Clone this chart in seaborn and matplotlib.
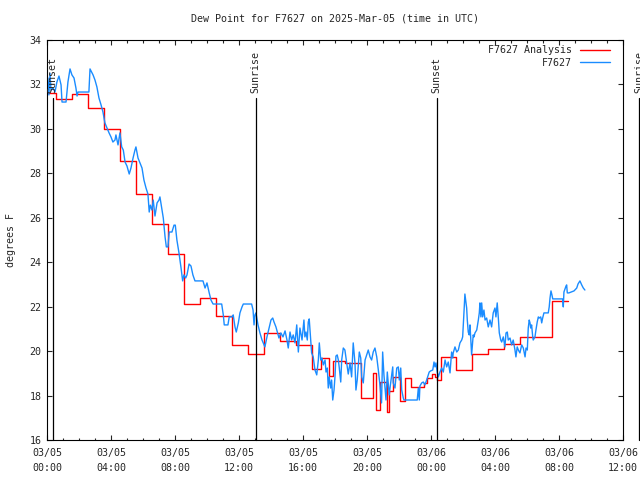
import matplotlib
matplotlib.use("Agg")
import matplotlib.pyplot as plt
import matplotlib.dates as mdates
import matplotlib.transforms as mtransforms
import pandas as pd
import seaborn as sns

START = pd.Timestamp("2025-03-05 00:00")

# hourly analysis (step values), hours after 03/05 00:00 UTC
analysis_hours = [
    0.00, 0.56, 1.56, 2.56, 3.56, 4.56, 5.56, 6.56, 7.56, 8.56, 9.56, 10.56,
    11.56, 12.56, 13.56, 14.56, 15.56, 16.56, 17.10, 17.60, 17.86, 18.60,
    19.60, 20.36, 20.56, 20.81, 21.23, 21.38, 21.60, 22.06, 22.40, 22.73,
    23.56, 23.73, 24.04, 24.25, 24.40, 24.60, 25.56, 26.56, 27.56, 28.56,
    29.56, 31.56, 32.54,
]
analysis_dewpt = [
    31.60, 31.35, 31.57, 30.93, 29.98, 28.56, 27.06, 25.70, 24.36, 22.12, 22.37, 21.58,
    20.27, 19.86, 20.83, 20.45, 20.28, 19.18, 19.67, 18.90, 19.55, 19.48,
    17.87, 19.00, 17.35, 18.62, 17.27, 18.22, 18.82, 17.77, 18.78, 18.37,
    18.58, 18.78, 18.97, 18.82, 18.70, 19.72, 19.15, 19.85, 20.08, 20.30,
    20.62, 22.25, 22.25,
]

# station observations
obs_hours = [
    0.00, 0.06, 0.12, 0.19, 0.25, 0.38, 0.50, 0.62, 0.75, 0.88, 0.94, 1.19,
    1.31, 1.44, 1.56, 1.69, 1.81, 1.88, 1.94, 2.62, 2.69, 2.88, 3.00, 3.12,
    3.25, 3.38, 3.50, 3.62, 3.75, 3.88, 4.00, 4.12, 4.25, 4.31, 4.44, 4.56,
    4.67, 4.77, 4.88, 5.00, 5.14, 5.25, 5.38, 5.50, 5.56, 5.69, 5.81, 5.94,
    6.06, 6.19, 6.31, 6.39, 6.46, 6.56, 6.64, 6.75, 6.88, 7.00, 7.06, 7.19,
    7.27, 7.38, 7.46, 7.56, 7.64, 7.81, 7.94, 8.02, 8.12, 8.25, 8.38, 8.48,
    8.56, 8.67, 8.75, 8.88, 9.00, 9.12, 9.25, 9.75, 9.88, 10.00, 10.14, 10.25,
    10.38, 10.92, 11.02, 11.08, 11.31, 11.39, 11.56, 11.64, 11.75, 11.83, 11.96, 12.06,
    12.19, 12.27, 12.79, 12.88, 12.94, 13.00, 13.06, 13.19, 13.31, 13.44, 13.62, 13.75,
    13.88, 14.00, 14.11, 14.19, 14.31, 14.50, 14.62, 14.75, 14.88, 15.00, 15.08, 15.19,
    15.29, 15.39, 15.50, 15.61, 15.71, 15.81, 15.94, 16.06, 16.12, 16.19, 16.27, 16.33,
    16.39, 16.48, 16.54, 16.64, 16.75, 16.86, 16.96, 17.02, 17.11, 17.19, 17.27, 17.38,
    17.44, 17.52, 17.58, 17.64, 17.73, 17.79, 17.86, 17.94, 18.00, 18.06, 18.14, 18.21,
    18.27, 18.36, 18.42, 18.52, 18.62, 18.73, 18.83, 18.94, 19.04, 19.14, 19.25, 19.31,
    19.39, 19.52, 19.61, 19.67, 19.77, 19.88, 19.98, 20.08, 20.19, 20.29, 20.39, 20.50,
    20.61, 20.71, 20.81, 20.91, 20.98, 21.06, 21.19, 21.27, 21.39, 21.48, 21.61, 21.64,
    21.75, 21.86, 21.96, 22.02, 22.11, 22.17, 22.27, 22.31, 23.14, 23.21, 23.27, 23.31,
    23.42, 23.52, 23.62, 23.73, 23.83, 23.89, 23.98, 24.11, 24.19, 24.25, 24.31, 24.39,
    24.46, 24.56, 24.67, 24.77, 24.88, 24.98, 25.08, 25.19, 25.29, 25.36, 25.39, 25.50,
    25.61, 25.71, 25.81, 25.92, 25.98, 26.04, 26.08, 26.12, 26.17, 26.23, 26.27, 26.33,
    26.39, 26.44, 26.48, 26.54, 26.61, 26.64, 26.69, 26.75, 26.86, 26.96, 27.02, 27.06,
    27.12, 27.17, 27.23, 27.31, 27.38, 27.48, 27.58, 27.69, 27.79, 27.89, 28.00, 28.06,
    28.14, 28.21, 28.27, 28.36, 28.42, 28.52, 28.62, 28.69, 28.77, 28.83, 28.94, 29.04,
    29.14, 29.25, 29.31, 29.39, 29.46, 29.56, 29.67, 29.77, 29.88, 29.94, 30.02, 30.08,
    30.14, 30.19, 30.23, 30.29, 30.36, 30.39, 30.50, 30.56, 30.64, 30.71, 30.77, 30.86,
    30.92, 30.98, 31.06, 31.33, 31.39, 31.44, 31.50, 31.56, 31.61, 32.23, 32.27, 32.31,
    32.44, 32.48, 32.52, 32.62, 32.94, 33.11, 33.19, 33.31, 33.42, 33.52, 33.62,
]
obs_dewpt = [
    31.62, 32.29, 31.53, 32.50, 31.75, 31.84, 31.66, 32.11, 32.38, 31.98, 31.21, 31.21,
    32.11, 32.70, 32.43, 32.29, 31.84, 31.48, 31.66, 31.66, 32.70, 32.43, 32.20, 31.89,
    31.39, 31.08, 30.76, 30.27, 30.04, 29.82, 29.64, 29.41, 29.50, 29.73, 29.28, 29.82,
    29.19, 29.05, 28.51, 28.33, 27.97, 28.24, 28.69, 29.05, 29.19, 28.69, 28.47, 28.24,
    27.70, 27.34, 27.07, 26.26, 26.57, 26.35, 26.80, 26.08, 26.67, 26.80, 26.94, 26.35,
    25.99, 25.14, 24.69, 24.69, 25.36, 25.36, 25.67, 25.67, 25.00, 24.42, 23.74, 23.16,
    23.43, 23.29, 23.43, 23.92, 23.83, 23.43, 23.16, 23.16, 22.84, 23.07, 22.62, 22.30,
    22.12, 22.12, 21.63, 21.18, 21.18, 21.54, 21.54, 21.63, 21.09, 20.86, 21.27, 21.72,
    21.99, 22.12, 22.12, 21.85, 21.18, 21.63, 21.72, 21.18, 20.82, 20.50, 20.19, 20.64,
    21.04, 21.40, 21.49, 21.31, 21.09, 20.59, 20.82, 20.64, 20.91, 20.50, 20.14, 20.86,
    20.50, 20.73, 20.37, 21.18, 19.96, 21.04, 20.50, 21.40, 20.64, 20.86, 20.50, 21.31,
    21.45, 20.50, 19.92, 19.74, 19.15, 18.93, 19.60, 20.37, 19.60, 19.69, 19.38, 19.60,
    19.06, 19.24, 18.34, 18.84, 18.34, 18.70, 17.80, 18.25, 18.84, 19.78, 19.83, 19.60,
    19.24, 18.61, 19.60, 20.14, 20.05, 19.47, 18.97, 19.47, 18.84, 20.37, 19.47, 18.25,
    18.70, 19.96, 19.69, 18.84, 18.57, 19.60, 19.83, 20.05, 19.74, 19.60, 19.96, 20.14,
    19.74, 19.15, 18.48, 17.67, 19.96, 18.93, 17.80, 19.06, 18.03, 18.57, 19.29, 18.57,
    18.34, 19.24, 19.29, 18.70, 19.24, 18.25, 17.89, 17.80, 17.80, 18.34, 17.80, 18.43,
    18.57, 18.61, 18.48, 18.70, 18.93, 19.06, 19.11, 19.15, 19.51, 19.29, 19.47, 19.06,
    18.84, 19.06, 19.24, 19.06, 19.60, 19.29, 19.51, 19.02, 19.96, 19.69, 19.92, 20.19,
    19.96, 20.05, 20.37, 20.50, 20.64, 21.40, 21.99, 22.57, 22.30, 21.94, 21.40, 20.86,
    20.73, 21.18, 20.64, 19.83, 20.50, 20.73, 20.64, 20.82, 20.95, 21.40, 21.72, 22.17,
    21.54, 22.17, 21.54, 21.85, 21.40, 21.49, 21.09, 21.40, 21.09, 21.72, 21.94, 21.54,
    22.17, 21.49, 20.82, 20.50, 20.41, 20.64, 20.19, 20.82, 20.86, 20.50, 20.59, 20.28,
    20.50, 20.05, 19.74, 20.19, 20.05, 19.92, 20.28, 20.14, 19.74, 20.14, 20.05, 21.04,
    21.40, 21.27, 21.04, 21.18, 20.64, 20.50, 20.64, 20.95, 21.31, 21.54, 21.49, 21.54,
    21.27, 21.49, 21.72, 21.72, 21.99, 22.39, 22.71, 22.53, 22.35, 22.35, 21.99, 22.66,
    22.93, 22.98, 22.62, 22.62, 22.71, 22.84, 23.02, 23.16, 22.98, 22.84, 22.75,
]

sun_labels = ["Sunset", "Sunrise", "Sunset", "Sunrise"]
sun_times = ["2025-03-05 00:22", "2025-03-05 13:02", "2025-03-06 00:22", "2025-03-06 13:00"]


def to_times(hours):
    return START + pd.to_timedelta(hours, unit="h")


sns.set_style("ticks")
plt.rcParams["font.family"] = ["DejaVu Sans Mono"]
plt.rcParams["font.size"] = 7.2

analysis = pd.DataFrame({"time": to_times(analysis_hours), "dewpt": analysis_dewpt})
obs = pd.DataFrame({"time": to_times(obs_hours), "dewpt": obs_dewpt})

fig = plt.figure(figsize=(6.4, 4.8), dpi=100)
ax = fig.add_axes([0.0734, 0.0833, 0.9, 0.8333])

sns.lineplot(data=analysis, x="time", y="dewpt", ax=ax, color="#ff0000",
             linewidth=1.0, drawstyle="steps-post", estimator=None,
             label="F7627 Analysis")
sns.lineplot(data=obs, x="time", y="dewpt", ax=ax, color="#1a8cff",
             linewidth=1.0, estimator=None, label="F7627")

# sunrise / sunset markers
trans = mtransforms.blended_transform_factory(ax.transData, ax.transAxes)
for lab, t in zip(sun_labels, pd.to_datetime(sun_times)):
    ax.axvline(t, ymin=0, ymax=0.855, color="black", linewidth=0.9, clip_on=False)
    ax.text(t, 0.868, lab, transform=trans, rotation=90, ha="center",
            va="bottom", fontsize=7.2, clip_on=False)

ax.set_xlim(pd.Timestamp("2025-03-05 00:00"), pd.Timestamp("2025-03-06 12:00"))
ax.set_ylim(16, 34)
ax.set_yticks(range(16, 35, 2))
ax.xaxis.set_major_locator(mdates.HourLocator(byhour=range(0, 24, 4)))
ax.xaxis.set_minor_locator(mdates.HourLocator())
ax.xaxis.set_major_formatter(mdates.DateFormatter("%m/%d\n%H:%M"))
ax.tick_params(which="major", direction="in", top=True, right=True,
               length=3.6, width=0.8, labelsize=7.2, pad=4)
ax.tick_params(axis="x", which="major", pad=5.5)
ax.tick_params(which="minor", direction="in", top=True, right=True,
               length=1.8, width=0.8)
for spine in ax.spines.values():
    spine.set_linewidth(0.8)
    spine.set_color("black")

ax.set_xlabel("")
ax.set_ylabel("degrees F", fontsize=7.2, labelpad=10)
ax.set_title("Dew Point for F7627 on 2025-Mar-05 (time in UTC)", fontsize=7.2, pad=13)

ax.legend(loc="upper right", bbox_to_anchor=(1.0, 1.021), frameon=False,
          markerfirst=False, fontsize=7.2, handlelength=3.0, handletextpad=0.8,
          labelspacing=0.25, borderaxespad=0.94)

fig.canvas.draw()
for lab in ax.get_xticklabels():
    lab.set_linespacing(1.65)

fig.savefig("out.png", dpi=100)
